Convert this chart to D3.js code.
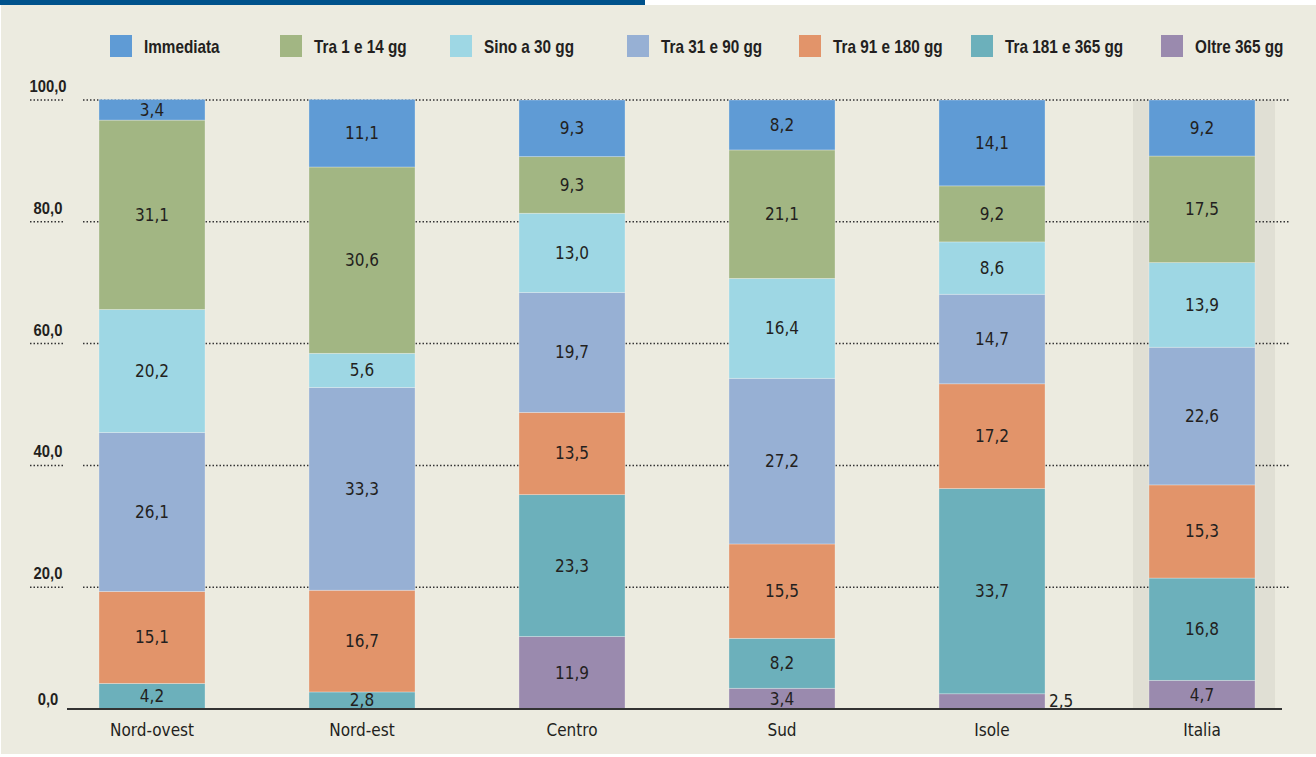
<!DOCTYPE html>
<html>
<head>
<meta charset="utf-8">
<script src="https://cdn.jsdelivr.net/npm/d3@7"></script>
<style>
  body { margin: 0; background: #ffffff; }
  text { font-family: "DejaVu Sans Condensed", "Liberation Sans", sans-serif; fill: #231f20; }
  text.bold { font-family: "Liberation Sans", Arial, sans-serif; font-weight: bold; }
</style>
</head>
<body>
<div id="chart"></div>
<script>

// Data (percent, bottom to top of each bar)

var categories = ["Nord-ovest", "Nord-est", "Centro", "Sud", "Isole", "Italia"];

var immediata   = [3.4, 11.1, 9.3, 8.2, 14.1, 9.2];
var tra1e14     = [31.1, 30.6, 9.3, 21.1, 9.2, 17.5];
var sino30      = [20.2, 5.6, 13.0, 16.4, 8.6, 13.9];
var tra31e90    = [26.1, 33.3, 19.7, 27.2, 14.7, 22.6];
var tra91e180   = [15.1, 16.7, 13.5, 15.5, 17.2, 15.3];
var tra181e365  = [4.2, 2.8, 23.3, 8.2, 33.7, 16.8];
var oltre365    = [0, 0, 11.9, 3.4, 2.5, 4.7];

var seriesNames = ["Immediata", "Tra 1 e 14 gg", "Sino a 30 gg", "Tra 31 e 90 gg", "Tra 91 e 180 gg", "Tra 181 e 365 gg", "Oltre 365 gg"];
var seriesValues = [immediata, tra1e14, sino30, tra31e90, tra91e180, tra181e365, oltre365];
var yTicks = [0, 20, 40, 60, 80, 100];

// Styles / layout

var colors = ["#5f9bd5", "#a2b683", "#9ed7e4", "#97b0d4", "#e2946a", "#6cb0bb", "#9a8aae"];
var legendX = [110, 280, 450, 627, 799, 971, 1161];

var width = 1316;
var height = 757;

var svg = d3.select("#chart").append("svg")
    .attr("width", width)
    .attr("height", height);

// Background and top strip

svg.append("rect")
    .attr("x", 1).attr("y", 5)
    .attr("width", width - 1).attr("height", 749)
    .attr("fill", "#ecebe0");

svg.append("rect")
    .attr("x", 0).attr("y", 0)
    .attr("width", 645).attr("height", 5)
    .attr("fill", "#00528c");

// Build rows for the stack

var rows = categories.map(function(c, i) {
	var r = { cat: c };
	seriesNames.forEach(function(s, j) { r[s] = seriesValues[j][i]; });
	return r;
});

var stackKeys = seriesNames.slice().reverse();		// bottom first
var stacked = d3.stack().keys(stackKeys)(rows);

// Scales

var x = d3.scaleBand()
    .domain(categories)
    .range([47, 1307])
    .paddingInner(0.495)
    .paddingOuter(0.2475);

var y = d3.scaleLinear()
    .domain([0, 100])
    .range([709, 100]);

var color = d3.scaleOrdinal().domain(seriesNames).range(colors);
var fmt = function(v) { return d3.format(".1f")(v).replace(".", ","); };

// Highlight band behind Italia

svg.append("rect")
    .attr("x", x("Italia") - 16)
    .attr("y", y(100))
    .attr("width", x.bandwidth() + 36)
    .attr("height", y(0) - y(100))
    .attr("fill", "#e0dfd4");

// Gridlines (dotted) and tick labels

var grid = svg.append("g");

grid.selectAll("line.left")
    .data(yTicks.filter(function(d) { return d > 0; }))
  .enter().append("line")
    .attr("x1", 30).attr("x2", 64)
    .attr("y1", function(d) { return y(d); })
    .attr("y2", function(d) { return y(d); })
    .attr("stroke", "#333")
    .attr("stroke-width", 1.5)
    .attr("stroke-dasharray", "1.5,2");

grid.selectAll("line.main")
    .data(yTicks.filter(function(d) { return d > 0; }))
  .enter().append("line")
    .attr("x1", 83).attr("x2", 1290)
    .attr("y1", function(d) { return y(d); })
    .attr("y2", function(d) { return y(d); })
    .attr("stroke", "#333")
    .attr("stroke-width", 1.5)
    .attr("stroke-dasharray", "1.5,2");

grid.selectAll("text")
    .data(yTicks)
  .enter().append("text")
    .attr("class", "bold")
    .attr("transform", function(d) { return "translate(48," + (y(d) - (d === 0 ? 4 : 8)) + ") scale(0.87,1)"; })
    .attr("text-anchor", "middle")
    .style("font-size", "17px")
    .text(function(d) { return fmt(d); });

// Bars

var layers = svg.selectAll("g.layer")
    .data(stacked)
  .enter().append("g")
    .attr("class", "layer")
    .attr("fill", function(d) { return color(d.key); });

layers.selectAll("rect")
    .data(function(d) { return d; })
  .enter().append("rect")
    .attr("x", function(d) { return x(d.data.cat); })
    .attr("y", function(d) { return y(d[1]); })
    .attr("width", x.bandwidth())
    .attr("height", function(d) { return y(d[0]) - y(d[1]); })
    .attr("stroke", "rgba(255,255,255,0.35)")
    .attr("stroke-width", 0.8);

// Value labels

layers.selectAll("text")
    .data(function(d) { return d.filter(function(p) { return p[1] - p[0] > 0; }); })
  .enter().append("text")
    .each(function(d) {
    	var h = y(d[0]) - y(d[1]);
    	var t = d3.select(this);
    	if (h < 16) {		// too small: put it beside the bar
    		t.attr("x", x(d.data.cat) + x.bandwidth() + 4)
    		 .attr("text-anchor", "start");
    	} else {
    		t.attr("x", x(d.data.cat) + x.bandwidth() / 2)
    		 .attr("text-anchor", "middle");
    	}
    	t.attr("y", (y(d[0]) + y(d[1])) / 2)
    	 .attr("dy", "0.35em");
    })
    .style("font-size", "17px")
    .text(function(d) { return fmt(d[1] - d[0]); });

// Axis line and category labels

svg.append("line")
    .attr("x1", 67).attr("x2", 1282)
    .attr("y1", y(0)).attr("y2", y(0))
    .attr("stroke", "#333")
    .attr("stroke-width", 2);

svg.selectAll("text.cat")
    .data(categories)
  .enter().append("text")
    .attr("class", "cat")
    .attr("x", function(d) { return x(d) + x.bandwidth() / 2; })
    .attr("y", 736)
    .attr("text-anchor", "middle")
    .style("font-size", "17px")
    .text(function(d) { return d; });

// Legend

var legend = svg.selectAll("g.legend")
    .data(seriesNames)
  .enter().append("g")
    .attr("class", "legend")
    .attr("transform", function(d, i) { return "translate(" + legendX[i] + ",35)"; });

legend.append("rect")
    .attr("width", 22).attr("height", 22)
    .attr("fill", function(d) { return color(d); });

legend.append("text")
    .attr("class", "bold")
    .attr("transform", "translate(34,17.5) scale(0.85,1)")
    .style("font-size", "18px")
    .text(function(d) { return d; });

</script>
</body>
</html>
